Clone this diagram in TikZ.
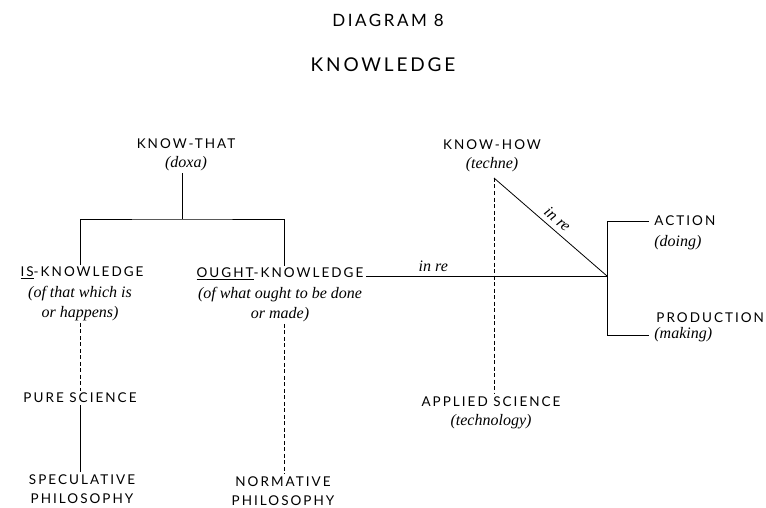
\documentclass[tikz,border=0pt]{standalone}
\usepackage{fontspec}
\setmainfont{Liberation Serif}
\newfontfamily\capsfont[LetterSpace=15]{Lato}
\newcommand{\cp}[1]{{\capsfont\fontsize{13.5}{19.5}\selectfont #1}}
\newcommand{\ip}[1]{{\itshape\fontsize{16}{19.5}\selectfont #1}}
\begin{document}
\begin{tikzpicture}[x=1pt,y=-1pt,line width=.8pt,
	lab/.style={align=center,inner sep=2pt,font=\fontsize{13.5}{19.5}\selectfont},
	dsh/.style={dash pattern=on 4pt off 2.5pt}]
	\useasboundingbox (0,0) rectangle (766,508);

	% heading
	\node (title) at (388,20) {\capsfont\fontsize{17}{20}\selectfont DIAGRAM 8};
	\node (knowl) at (383,65) {\capsfont\fontsize{19}{22}\selectfont KNOWLEDGE};

	% know-that side
	\node[lab,anchor=north] (kthat) at (186,136) {\cp{KNOW-THAT}\\\ip{(doxa)}};
	\node[lab] (isk) at (82,273) {\cp{\underline{IS}-KNOWLEDGE}};
	\node[lab,anchor=north] (issub) at (80,284) {\ip{(of that which is}\\\ip{or happens)}};
	\node[lab] (oughtk) at (280,274) {\cp{\underline{OUGHT}-KNOWLEDGE}};
	\node[lab,anchor=north] (oughtsub) at (280,285) {\ip{(of what ought to be done}\\\ip{or made)}};
	\node[lab] (pure) at (80,398) {\cp{PURE SCIENCE}};
	\node[lab,anchor=north] (spec) at (82,472) {\cp{SPECULATIVE}\\\cp{PHILOSOPHY}};
	\node[lab,anchor=north] (norm) at (283,474) {\cp{NORMATIVE}\\\cp{PHILOSOPHY}};

	\coordinate (fork) at (182,219);
	\draw (kthat.south -| fork) -- (fork);
	\draw ([xshift=-2pt]isk.north) |- (fork) -| ([xshift=4pt]oughtk.north);
	\draw[dsh] (issub.south) -- (issub.south |- pure.north);
	\draw (pure.south) -- (pure.south |- spec.north);
	\draw[dsh] ([xshift=4pt]oughtsub.south) -- ([xshift=4pt]oughtsub.south |- norm.north);

	% know-how side
	\node[lab,anchor=north] (khow) at (492,137) {\cp{KNOW-HOW}\\\ip{(techne)}};
	\node[lab,anchor=north] (apsci) at (491,394) {\cp{APPLIED SCIENCE}\\\ip{(technology)}};
	\node[lab,anchor=west] (act) at (652,221) {\cp{ACTION}};
	\node[lab,anchor=west] (doing) at (652,243) {\ip{(doing)}};
	\node[lab,anchor=west] (prod) at (654,318) {\cp{PRODUCTION}};
	\node[lab,anchor=west] (making) at (652,335) {\ip{(making)}};

	\coordinate (apex) at (494,178);
	\coordinate (hub) at (607,276);
	\draw (oughtk.east |- hub) -- (hub) node[pos=.28,above,inner sep=4pt]{\ip{in re}};
	\draw (apex) -- (hub) node[midway,sloped,above,inner sep=5pt]{\ip{in re}};
	\draw[dsh] (apex) -- (apex |- apsci.north);
	\draw[shorten <=3pt] (act.west) -| (hub);
	\draw[shorten >=3pt] (hub) |- (making.west);
\end{tikzpicture}
\end{document}
